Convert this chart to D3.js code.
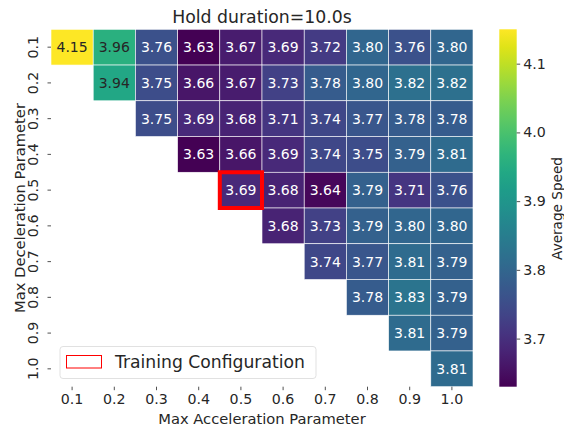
<!DOCTYPE html>
<html>
<head>
<meta charset="utf-8">
<script src="https://cdn.jsdelivr.net/npm/d3@7"></script>
<style>
  html, body { margin: 0; padding: 0; background: #fff; }
  svg { display: block; font-family: "DejaVu Sans", sans-serif; }
</style>
</head>
<body>
<svg id="chart" width="564" height="428"></svg>
<script>
// Parameter grids
const accelParams = ["0.1", "0.2", "0.3", "0.4", "0.5", "0.6", "0.7", "0.8", "0.9", "1.0"];
const decelParams = ["0.1", "0.2", "0.3", "0.4", "0.5", "0.6", "0.7", "0.8", "0.9", "1.0"];

// Average speed per deceleration row; each row starts at the column equal to its own parameter
const row01 = [4.15, 3.96, 3.76, 3.63, 3.67, 3.69, 3.72, 3.80, 3.76, 3.80];
const row02 = [3.94, 3.75, 3.66, 3.67, 3.73, 3.78, 3.80, 3.82, 3.82];
const row03 = [3.75, 3.69, 3.68, 3.71, 3.74, 3.77, 3.78, 3.78];
const row04 = [3.63, 3.66, 3.69, 3.74, 3.75, 3.79, 3.81];
const row05 = [3.69, 3.68, 3.64, 3.79, 3.71, 3.76];
const row06 = [3.68, 3.73, 3.79, 3.80, 3.80];
const row07 = [3.74, 3.77, 3.81, 3.79];
const row08 = [3.78, 3.83, 3.79];
const row09 = [3.81, 3.79];
const row10 = [3.81];
const speedRows = [row01, row02, row03, row04, row05, row06, row07, row08, row09, row10];

const colorbarTicks = [3.7, 3.8, 3.9, 4.0, 4.1];
const trainingConfig = { accel: "0.5", decel: "0.5" };

const cells = [];
speedRows.forEach((vals, r) => {
  vals.forEach((v, k) => {
    cells.push({ decel: decelParams[r], accel: accelParams[r + k], value: v });
  });
});

const svg = d3.select("#chart");
const plot = { left: 51, top: 29.3, right: 473, bottom: 386.7 };
const ink = "#262626";

const x = d3.scaleBand().domain(accelParams).range([plot.left, plot.right]);
const y = d3.scaleBand().domain(decelParams).range([plot.top, plot.bottom]);

const vmin = d3.min(cells, d => d.value);
const vmax = d3.max(cells, d => d.value);
const color = d3.scaleSequential(d3.interpolateViridis).domain([vmin, vmax]);

function textColor(v) {
  const c = d3.rgb(color(v));
  const lum = (0.2126 * c.r + 0.7152 * c.g + 0.0722 * c.b) / 255;
  return lum > 0.5 ? ink : "#ffffff";
}

// Cells
const g = svg.append("g");
g.selectAll("rect.cell").data(cells).enter().append("rect")
  .attr("class", "cell")
  .attr("x", d => x(d.accel))
  .attr("y", d => y(d.decel))
  .attr("width", x.bandwidth())
  .attr("height", y.bandwidth())
  .attr("fill", d => color(d.value))
  .attr("stroke", "#ffffff")
  .attr("stroke-width", 0.6);

g.selectAll("text.val").data(cells).enter().append("text")
  .attr("class", "val")
  .attr("x", d => x(d.accel) + x.bandwidth() / 2)
  .attr("y", d => y(d.decel) + y.bandwidth() / 2)
  .attr("dy", "0.36em")
  .attr("text-anchor", "middle")
  .attr("font-size", 14)
  .attr("fill", d => textColor(d.value))
  .text(d => d.value.toFixed(2));

// Training configuration highlight
svg.append("rect")
  .attr("x", x(trainingConfig.accel))
  .attr("y", y(trainingConfig.decel))
  .attr("width", x.bandwidth())
  .attr("height", y.bandwidth())
  .attr("fill", "none")
  .attr("stroke", "#ff0000")
  .attr("stroke-width", 4);

// Axes
const xAxis = svg.append("g")
  .attr("transform", `translate(0,${plot.bottom})`)
  .call(d3.axisBottom(x).tickSize(3.5).tickPadding(4));
xAxis.select(".domain").remove();
xAxis.selectAll("text").attr("font-size", 14.2).attr("fill", ink).attr("font-family", "DejaVu Sans");
xAxis.selectAll("line").attr("stroke", ink).attr("stroke-width", 0.8);

const yAxis = svg.append("g")
  .attr("transform", `translate(${plot.left},0)`)
  .call(d3.axisLeft(y).tickSize(3.5).tickPadding(4));
yAxis.select(".domain").remove();
yAxis.selectAll("line").attr("stroke", ink).attr("stroke-width", 0.8);
yAxis.selectAll("text")
  .attr("font-size", 14.2).attr("fill", ink).attr("font-family", "DejaVu Sans")
  .attr("text-anchor", "middle")
  .attr("x", null)
  .attr("transform", "translate(-18,0) rotate(-90)")
  .attr("y", 0)
  .attr("dy", "0.36em");

// Title and axis labels
svg.append("text")
  .attr("x", (plot.left + plot.right) / 2).attr("y", 23)
  .attr("text-anchor", "middle").attr("font-size", 17.3).attr("fill", ink)
  .text("Hold duration=10.0s");

svg.append("text")
  .attr("x", (plot.left + plot.right) / 2).attr("y", 423.5)
  .attr("text-anchor", "middle").attr("font-size", 14.7).attr("fill", ink)
  .text("Max Acceleration Parameter");

svg.append("text")
  .attr("transform", `translate(24.5,${(plot.top + plot.bottom) / 2}) rotate(-90)`)
  .attr("text-anchor", "middle").attr("font-size", 14.7).attr("fill", ink)
  .text("Max Deceleration Parameter");

// Colorbar
const cb = { x: 499.3, w: 17.4 };
const cbScale = d3.scaleLinear().domain([vmin, vmax]).range([plot.bottom, plot.top]);
const defs = svg.append("defs");
const grad = defs.append("linearGradient").attr("id", "cbgrad")
  .attr("x1", 0).attr("y1", 1).attr("x2", 0).attr("y2", 0);
d3.range(0, 1.0001, 0.05).forEach(t => {
  grad.append("stop").attr("offset", t).attr("stop-color", d3.interpolateViridis(t));
});
svg.append("rect")
  .attr("x", cb.x).attr("y", plot.top)
  .attr("width", cb.w).attr("height", plot.bottom - plot.top)
  .attr("fill", "url(#cbgrad)");

const cbAxis = svg.append("g")
  .attr("transform", `translate(${cb.x + cb.w},0)`)
  .call(d3.axisRight(cbScale).tickValues(colorbarTicks).tickFormat(d3.format(".1f")).tickSize(3.5).tickPadding(3));
cbAxis.select(".domain").remove();
cbAxis.selectAll("line").attr("stroke", ink).attr("stroke-width", 0.8);
cbAxis.selectAll("text").attr("font-size", 14.2).attr("fill", ink).attr("font-family", "DejaVu Sans");

svg.append("text")
  .attr("transform", `translate(562,${(plot.top + plot.bottom) / 2 + 0.5}) rotate(-90)`)
  .attr("text-anchor", "middle").attr("font-size", 13.6).attr("fill", ink)
  .text("Average Speed");

// Legend
const lg = svg.append("g");
lg.append("rect")
  .attr("x", 60).attr("y", 346.5).attr("width", 256).attr("height", 32)
  .attr("rx", 3).attr("fill", "#ffffff").attr("fill-opacity", 0.85)
  .attr("stroke", "#d9d9d9").attr("stroke-width", 0.8);
lg.append("rect")
  .attr("x", 66.5).attr("y", 355.5).attr("width", 35).attr("height", 12.5)
  .attr("fill", "none").attr("stroke", "#ff0000").attr("stroke-width", 1);
lg.append("text")
  .attr("x", 115).attr("y", 368)
  .attr("font-size", 17.2).attr("fill", ink)
  .text("Training Configuration");
</script>
</body>
</html>
